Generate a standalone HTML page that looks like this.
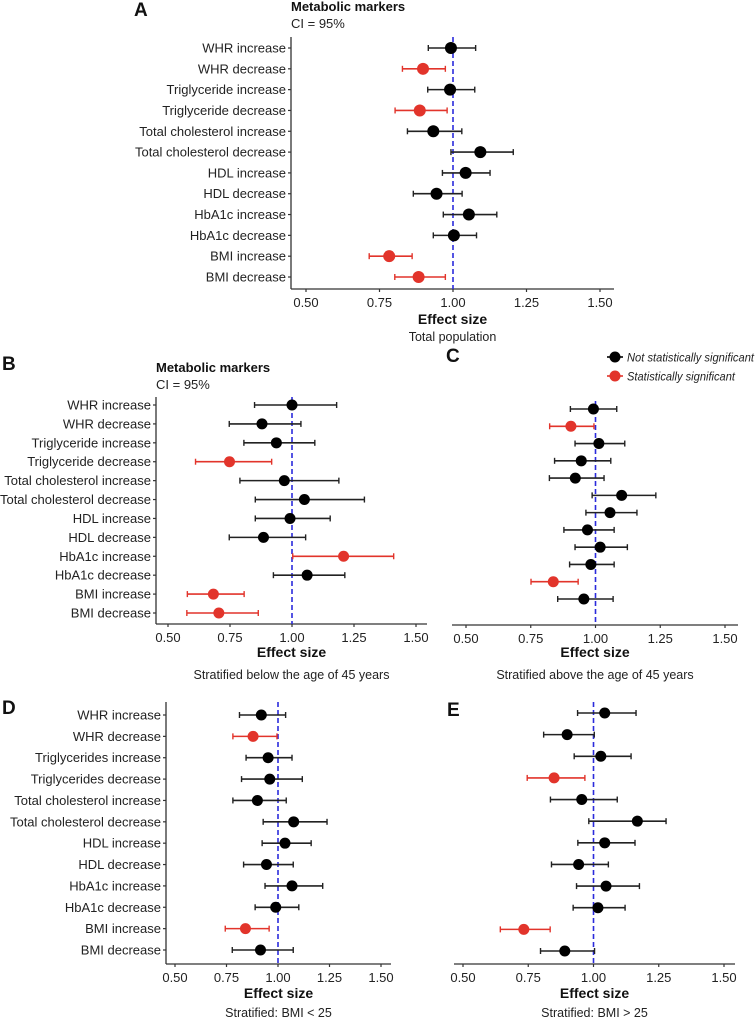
<!DOCTYPE html>
<html><head><meta charset="utf-8"><style>
body{margin:0;background:#fff;}
svg{display:block;font-family:"Liberation Sans",Arial,sans-serif;}
</style></head><body>
<svg id="fig" width="755" height="1021" viewBox="0 0 755 1021" xmlns="http://www.w3.org/2000/svg"></svg>
<script>
const labelsStd = ["WHR increase","WHR decrease","Triglyceride increase","Triglyceride decrease","Total cholesterol increase","Total cholesterol decrease","HDL increase","HDL decrease","HbA1c increase","HbA1c decrease","BMI increase","BMI decrease"];
const labelsD = ["WHR increase","WHR decrease","Triglycerides increase","Triglycerides decrease","Total cholesterol increase","Total cholesterol decrease","HDL increase","HDL decrease","HbA1c increase","HbA1c decrease","BMI increase","BMI decrease"];
const xTicks = [0.5,0.75,1.0,1.25,1.5];
const xTickLabels = ["0.50","0.75","1.00","1.25","1.50"];

const estA = [0.993,0.898,0.99,0.887,0.933,1.093,1.043,0.944,1.054,1.003,0.783,0.883];
const loA  = [0.916,0.828,0.914,0.803,0.845,0.993,0.964,0.865,0.967,0.933,0.715,0.802];
const hiA  = [1.077,0.974,1.074,0.98,1.03,1.205,1.126,1.031,1.149,1.08,0.861,0.974];
const sigA = [0,1,0,1,0,0,0,0,0,0,1,1];

const estB = [1.0,0.879,0.937,0.748,0.969,1.05,0.992,0.885,1.208,1.061,0.683,0.705];
const loB  = [0.849,0.747,0.806,0.611,0.79,0.852,0.852,0.747,1.003,0.925,0.578,0.576];
const hiB  = [1.18,1.036,1.092,0.918,1.189,1.292,1.154,1.055,1.41,1.213,0.807,0.864];
const sigB = [0,0,0,1,0,0,0,0,1,0,1,1];

const estC = [0.992,0.905,1.013,0.945,0.922,1.101,1.056,0.969,1.018,0.982,0.837,0.955];
const loC  = [0.903,0.823,0.921,0.842,0.822,0.987,0.963,0.878,0.921,0.9,0.751,0.854];
const hiC  = [1.082,0.994,1.113,1.059,1.033,1.233,1.16,1.072,1.123,1.072,0.933,1.068];
const sigC = [0,1,0,0,0,0,0,0,0,0,1,0];

const estD = [0.919,0.879,0.952,0.96,0.9,1.076,1.034,0.944,1.068,0.989,0.842,0.915];
const loD  = [0.813,0.781,0.845,0.823,0.781,0.928,0.923,0.833,0.937,0.889,0.744,0.778];
const hiD  = [1.037,0.995,1.068,1.118,1.04,1.238,1.161,1.074,1.217,1.101,0.957,1.074];
const sigD = [0,1,0,0,0,0,0,0,0,0,1,0];

const estE = [1.043,0.899,1.028,0.849,0.955,1.168,1.043,0.943,1.048,1.017,0.733,0.89];
const loE  = [0.939,0.809,0.926,0.746,0.835,0.982,0.94,0.839,0.935,0.922,0.643,0.797];
const hiE  = [1.163,1.003,1.144,0.967,1.091,1.278,1.159,1.057,1.176,1.121,0.834,1.004];
const sigE = [0,0,0,1,0,0,0,0,0,0,1,0];

const NS="http://www.w3.org/2000/svg";
const svg=document.getElementById('fig');
function mk(tag,attrs,parent){const e=document.createElementNS(NS,tag);for(const k in attrs)e.setAttribute(k,attrs[k]);(parent||svg).appendChild(e);return e;}
function txt(s,attrs,parent){const e=mk('text',attrs,parent);e.textContent=s;return e;}

function panel(id,g,labels,est,lo,hi,sig){
  const grp=mk('g',{});
  
  
  const xs=v=>g.x05+(v-0.5)*(g.x15-g.x05);
  const ys=i=>g.y0+i*(g.yN-g.y0)/(est.length-1);
  const xa=mk('line',{x1:g.left,x2:g.right,y1:g.bottom,y2:g.bottom,stroke:'#333','stroke-width':1.3},grp);
  
  
  xTicks.forEach((t,i)=>{
    mk('line',{x1:xs(t),x2:xs(t),y1:g.bottom,y2:g.bottom+3,stroke:'#333','stroke-width':1.2},grp);
    const tl=txt(xTickLabels[i],{x:xs(t),y:g.bottom+18,'text-anchor':'middle','font-size':13,fill:'#222'},grp);
    
    
  });
  if(g.yaxis){
    const ya=mk('line',{x1:g.left,x2:g.left,y1:g.top,y2:g.bottom,stroke:'#333','stroke-width':1.3},grp);
    
    
    labels.forEach((l,i)=>{
      mk('line',{x1:g.left-3,x2:g.left,y1:ys(i),y2:ys(i),stroke:'#333','stroke-width':1.2},grp);
      const t=txt(l,{x:g.left-5,y:ys(i)+4.5,'text-anchor':'end','font-size':13,fill:'#222'},grp);
      
      
    });
  }
  const ref=mk('line',{x1:xs(1),x2:xs(1),y1:g.top,y2:g.bottom,stroke:'#2b2bdc','stroke-width':1.6,'stroke-dasharray':'5,3'},grp);
  
  
  est.forEach((v,i)=>{
    const c=sig[i]?'#e2342b':'#000';
    const lc=sig[i]?'#e2342b':'#222';
    const y=ys(i);
    const eb=mk('g',{},grp);
    
    
    mk('line',{x1:xs(lo[i]),x2:xs(hi[i]),y1:y,y2:y,stroke:lc,'stroke-width':1.6},eb);
    mk('line',{x1:xs(lo[i]),x2:xs(lo[i]),y1:y-3,y2:y+3,stroke:lc,'stroke-width':1.4},eb);
    mk('line',{x1:xs(hi[i]),x2:xs(hi[i]),y1:y-3,y2:y+3,stroke:lc,'stroke-width':1.4},eb);
    const p=mk('circle',{cx:xs(v),cy:y,r:g.r,fill:c},grp);
    
    
  });
  const xt=txt('Effect size',{x:(g.left+g.right)/2,y:g.titleY,'text-anchor':'middle','font-size':14,'font-weight':'bold',fill:'#111'},grp);
  
  
  const st=txt(g.sub,{x:(g.left+g.right)/2,y:g.subY,'text-anchor':'middle','font-size':12.5,fill:'#222'},grp);
  
  
  const L=txt(id,{x:g.lx,y:g.ly,'font-size':19,'font-weight':'bold',fill:'#111'},grp);
  
  
  if(g.head){
    const h=txt('Metabolic markers',{x:g.left,y:g.hy,'font-size':13,'font-weight':'bold',fill:'#111'},grp);
    
    
    const ci=txt('CI = 95%',{x:g.left,y:g.hy+17,'font-size':13,fill:'#222'},grp);
    
    
  }
}

panel('A',{left:291,right:614,top:37,bottom:289,x05:306,x15:600,y0:48,yN:277,r:6,yaxis:true,titleY:324,sub:'Total population',subY:341,lx:134,ly:16,head:true,hy:11},labelsStd,estA,loA,hiA,sigA);
panel('B',{left:156,right:427,top:397,bottom:624,x05:168,x15:416,y0:405,yN:613,r:5.5,yaxis:true,titleY:657,sub:'Stratified below the age of 45 years',subY:679,lx:2,ly:370,head:true,hy:372},labelsStd,estB,loB,hiB,sigB);
panel('C',{left:452,right:738,top:401,bottom:625,x05:466,x15:725,y0:409,yN:599,r:5.5,yaxis:false,titleY:657,sub:'Stratified above the age of 45 years',subY:679,lx:446,ly:362},labelsStd,estC,loC,hiC,sigC);
panel('D',{left:166,right:391,top:702,bottom:964,x05:175,x15:381,y0:715,yN:950,r:5.5,yaxis:true,titleY:998,sub:'Stratified: BMI < 25',subY:1017,lx:2,ly:714,head:false},labelsD,estD,loD,hiD,sigD);
panel('E',{left:454,right:735,top:702,bottom:964,x05:463,x15:724,y0:713,yN:951,r:5.5,yaxis:false,titleY:998,sub:'Stratified: BMI > 25',subY:1017,lx:447,ly:716},labelsStd,estE,loE,hiE,sigE);

const legendNames=['Not statistically significant','Statistically significant'];
const legendColors=['#000','#e2342b'];
const legendWidths=[127,108];
legendNames.forEach((n,i)=>{
  const g=mk('g',{});
  
  
  const y=357+i*19;
  mk('line',{x1:607,x2:623,y1:y,y2:y,stroke:legendColors[i],'stroke-width':1.6},g);
  mk('circle',{cx:615,cy:y,r:5.5,fill:legendColors[i]},g);
  txt(n,{x:627,y:y+4.5,'font-size':12,'font-style':'italic',fill:'#222',textLength:legendWidths[i],lengthAdjust:'spacingAndGlyphs'},g);
});
</script>
</body></html>
